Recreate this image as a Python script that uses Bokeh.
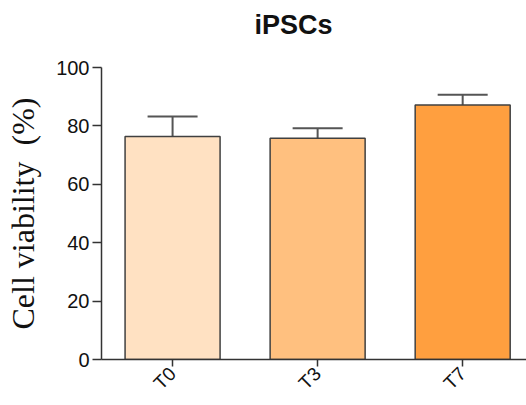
import math
from bokeh.plotting import figure
from bokeh.models import ColumnDataSource, FixedTicker, Range1d, Whisker, TeeHead
from bokeh.embed import file_html
from bokeh.resources import INLINE

title_text = "iPSCs"
categories = ["T0", "T3", "T7"]
means = [76.4, 75.8, 87.2]
errors = [6.8, 3.4, 3.5]
colors = ["#FFE1C2", "#FFC07F", "#FF9F3F"]

xs = list(range(len(categories)))
upper = [m + e for m, e in zip(means, errors)]
src = ColumnDataSource(dict(x=xs, top=means, upper=upper, color=colors))

p = figure(width=526, height=405, output_backend="svg", toolbar_location=None,
           x_range=Range1d(-0.49, 2.44), y_range=Range1d(0, 100),
           min_border_left=101, min_border_right=0, min_border_top=67, min_border_bottom=46,
           title=title_text + "\n")
p.outline_line_color = None
p.xgrid.grid_line_color = None
p.ygrid.grid_line_color = None

p.vbar(x="x", top="top", width=0.655, bottom=0, source=src, fill_color="color",
       line_color="#404040", line_width=1.5)

w = Whisker(base="x", upper="upper", lower="top", source=src,
            upper_head=TeeHead(size=50, line_color="#555555", line_width=2),
            lower_head=None, line_color="#555555", line_width=2)
p.add_layout(w)

p.title.text_font = "Liberation Sans"
p.title.text_font_size = "27px"
p.title.text_font_style = "bold"
p.title.align = "left"
p.title.offset = 153
p.title.vertical_align = "top"
p.title.standoff = 0
p.title.text_line_height = 0.85
p.title.text_color = "#111111"

p.yaxis.ticker = FixedTicker(ticks=[0, 20, 40, 60, 80, 100])
p.yaxis.minor_tick_line_color = None
p.yaxis.major_tick_out = 9
p.yaxis.major_tick_in = 0
p.yaxis.axis_line_width = 1.5
p.yaxis.major_tick_line_width = 1.5
p.yaxis.axis_line_color = "#333333"
p.yaxis.major_tick_line_color = "#333333"
p.yaxis.major_label_text_font = "Liberation Sans"
p.yaxis.major_label_text_font_size = "20px"
p.yaxis.major_label_text_color = "#111111"
p.yaxis.major_label_standoff = 3
p.yaxis.axis_label = "Cell viability\u00a0\u00a0(%)"
p.yaxis.axis_label_text_font = "Liberation Serif"
p.yaxis.axis_label_text_font_size = "32px"
p.yaxis.axis_label_text_font_style = "normal"
p.yaxis.axis_label_text_color = "#111111"
p.yaxis.axis_label_standoff = 12

p.xaxis.ticker = FixedTicker(ticks=xs)
p.xaxis.major_label_overrides = {i: c for i, c in zip(xs, categories)}
p.xaxis.minor_tick_line_color = None
p.xaxis.major_tick_out = 7
p.xaxis.major_tick_in = 0
p.xaxis.axis_line_width = 1.5
p.xaxis.major_tick_line_width = 1.5
p.xaxis.axis_line_color = "#333333"
p.xaxis.major_tick_line_color = "#333333"
p.xaxis.major_label_orientation = math.pi / 4
p.xaxis.major_label_text_font = "Liberation Sans"
p.xaxis.major_label_text_font_size = "19px"
p.xaxis.major_label_text_color = "#111111"
p.xaxis.major_label_standoff = 4

open("out.html", "w").write(file_html(p, INLINE))
